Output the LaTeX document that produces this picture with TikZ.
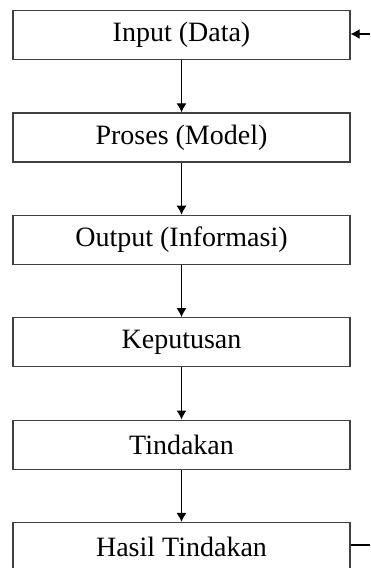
\documentclass[tikz,border=0pt]{standalone}
\usepackage{fontspec}
\setmainfont{Liberation Serif}
\usetikzlibrary{arrows.meta}

\tikzset{
	kotak/.style={draw=black!75, line width=1.2pt, minimum width=337pt, minimum height=49pt, inner sep=0pt, font=\fontsize{28}{32}\selectfont},
	panah/.style={-{Latex[length=9pt,width=10pt]}, line width=1.1pt}
}

\begin{document}
\begin{tikzpicture}
			\def\dx{181.5pt}
			\def\dy{102.4pt}

			\useasboundingbox (0,0) rectangle (370pt,-568pt);

			% Make nodes
			\foreach \teks [count=\i from 0] in {Input (Data), Proses (Model), Output (Informasi), Keputusan, Tindakan, Hasil Tindakan} {
				\node[kotak] (\i) at (\dx, -35pt-\i*\dy) {\teks};
			}

			% Make arrows
			\foreach \i [evaluate=\i as \j using int(\i+1)] in {0,...,4} {
				\draw[panah] (\i) -- (\j);
			}

			% Feedback
			\coordinate (balikatas) at (370pt,-34pt);
			\coordinate (balikbawah) at (370pt,-545pt);
			\draw[line width=1.1pt] (5.east |- balikbawah) -- (balikbawah);
			\draw[panah] (balikatas) -- (0.east |- balikatas);
		\end{tikzpicture}
\end{document}
